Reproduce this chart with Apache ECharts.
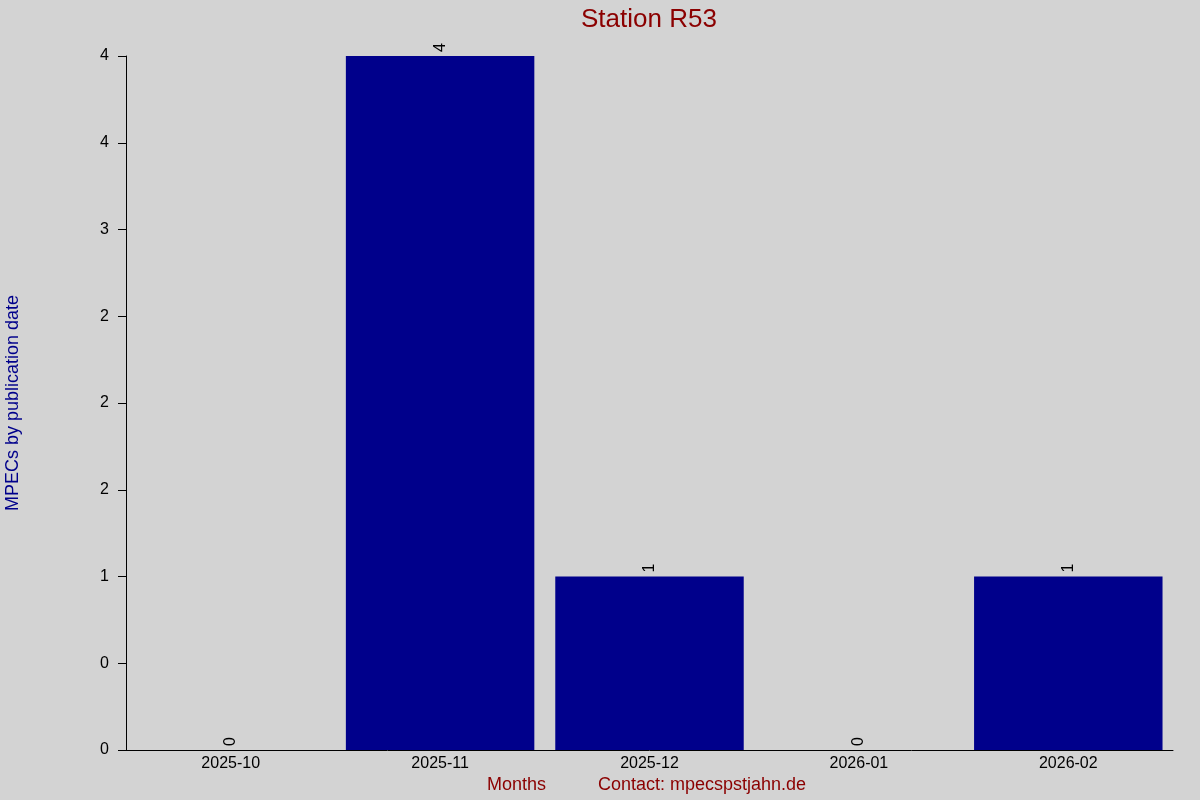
<!DOCTYPE html>
<html><head><meta charset="utf-8">
<script src="https://cdn.jsdelivr.net/npm/echarts@6/dist/echarts.min.js"></script>
<style>html,body{margin:0;padding:0;background:#d3d3d3}#c{width:1200px;height:800px}</style>
</head><body><div id="c"></div>
<script>
const months = ['2025-10','2025-11','2025-12','2026-01','2026-02'];
const mpecs = [0,4,1,0,1];
const titleText = 'Station R53';
const yName = 'MPECs by publication date';
const xName = 'Months';
const contactText = 'Contact: mpecspstjahn.de';

function roundHalfEven(v){
  const f = Math.floor(v), d = v - f;
  if (Math.abs(d-0.5) < 1e-9) return (f % 2 === 0) ? f : f+1;
  return Math.round(v);
}
const FF = 'Liberation Sans, Arial';
const chart = echarts.init(document.getElementById('c'));
chart.setOption({
  backgroundColor:'#d3d3d3',
  animation:false,
  title:{text:titleText,left:576,top:2,textStyle:{color:'#8b0000',fontSize:26,fontWeight:'normal',fontFamily:FF}},
  grid:{left:126,right:27,top:56,bottom:50,containLabel:false,outerBoundsMode:'none'},
  xAxis:{type:'category',data:months,
    axisLine:{show:true,lineStyle:{color:'#000',width:1}},
    axisTick:{show:false},
    axisLabel:{color:'#000',fontSize:16,margin:6,fontFamily:FF}},
  yAxis:{type:'value',min:0,max:4,interval:0.5,
    name:yName,nameLocation:'middle',nameGap:104,nameRotate:90,
    nameTextStyle:{color:'#00008b',fontSize:18,fontFamily:FF},
    splitLine:{show:false},
    axisLine:{show:true,lineStyle:{color:'#000',width:1}},
    axisTick:{show:true,inside:false,length:8,lineStyle:{color:'#000'}},
    axisLabel:{color:'#000',fontSize:16,margin:17,fontFamily:FF,formatter:v=>String(roundHalfEven(v))}},
  series:[{type:'bar',data:mpecs,barCategoryGap:'10%',
    itemStyle:{color:'#00008b'},
    label:{show:true,position:'top',rotate:90,distance:4,align:'left',verticalAlign:'middle',color:'#000',fontSize:16,fontFamily:FF}}],
  graphic:[
    {type:'text',left:487,top:776,style:{text:xName,fill:'#8b0000',fontSize:18,fontFamily:FF}},
    {type:'text',left:598,top:776,style:{text:contactText,fill:'#8b0000',fontSize:18,fontFamily:FF}}
  ]
});
</script></body></html>
